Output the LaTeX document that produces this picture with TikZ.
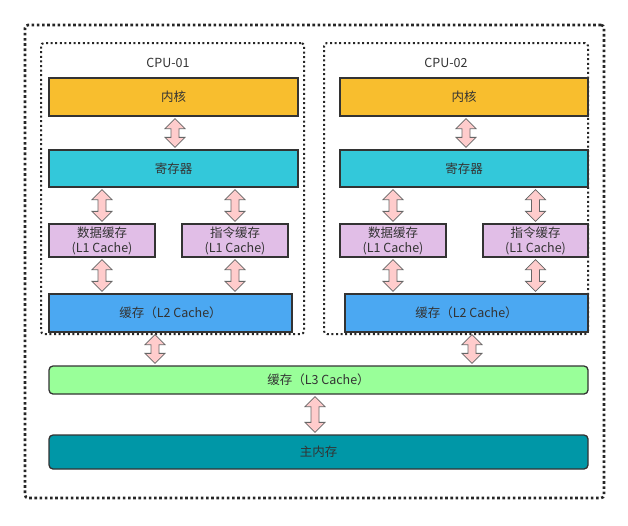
\documentclass[tikz,border=0pt]{standalone}
\usepackage{fontspec}
\setmainfont{Noto Sans CJK SC}
\usetikzlibrary{calc}
\definecolor{cCore}{HTML}{F8BE2E}
\definecolor{cReg}{HTML}{33C8DA}
\definecolor{cLone}{HTML}{E1BEE7}
\definecolor{cLtwo}{HTML}{4BA8F2}
\definecolor{cLthree}{HTML}{99FF99}
\definecolor{cMem}{HTML}{0097A7}
\definecolor{cArr}{HTML}{FFCCCC}
\definecolor{cTxt}{HTML}{333333}
\tikzset{
  box/.style={draw=cTxt, line width=1.3pt, inner sep=0pt, text=cTxt,
    font=\fontsize{12.5}{15}\selectfont, align=center},
  barr/.style={draw=black!60, fill=cArr, line width=0.8pt, line join=miter},
  outerbox/.style={draw=black!85, line width=2.6pt, dash pattern=on 2.6pt off 2.6pt, rounded corners=3pt},
  cpubox/.style={draw=black!85, line width=2pt, dash pattern=on 2pt off 2.6pt, rounded corners=3pt},
  lbl/.style={text=cTxt, font=\fontsize{12.5}{15}\selectfont}
}
\newcommand\boxnode[7]{\node[box,#6, minimum width={#4-#2}, minimum height={#5-#3}] (#1) at ({(#2+#4)/2},{(#3+#5)/2}) {#7};}
\newcommand\dbarr[3]{\path[barr] let \p1=(#2.south), \p2=(#3.north), \p3=(#1) in
  (\x3,\y1-2pt) -- (\x3-10pt,\y1-12pt) -- (\x3-4pt,\y1-12pt) -- (\x3-4pt,\y2+12pt) -- (\x3-10pt,\y2+12pt)
  -- (\x3,\y2+2pt) -- (\x3+10pt,\y2+12pt) -- (\x3+4pt,\y2+12pt) -- (\x3+4pt,\y1-12pt) -- (\x3+10pt,\y1-12pt) -- cycle;}
\begin{document}
\begin{tikzpicture}[x=1pt,y=-1pt]
\useasboundingbox (0,0) rectangle (628,525);
\fill[white] (0,0) rectangle (628,525);
\node[outerbox, minimum width=579, minimum height=473, inner sep=0pt] (outer) at (314.5,261.5) {};
\node[cpubox, minimum width=263, minimum height=291, inner sep=0pt] (cpuA) at (172.5,188.5) {};
\node[cpubox, minimum width=264, minimum height=291, inner sep=0pt] (cpuB) at (456,188.5) {};
\node[lbl] (labA) at (168,63) {CPU-01};
\node[lbl] (labB) at (446,63) {CPU-02};
% CPU-01
\boxnode{coreA}{49}{78}{298}{116}{fill=cCore}{内核}
\boxnode{regA}{49}{150}{298}{187}{fill=cReg}{寄存器}
\boxnode{dA}{49}{224}{155}{257}{fill=cLone}{数据缓存\\(L1 Cache)}
\boxnode{iA}{182}{224}{288}{257}{fill=cLone}{指令缓存\\(L1 Cache)}
\boxnode{ltA}{49}{294}{292}{332}{fill=cLtwo}{缓存（L2 Cache）}
% CPU-02
\boxnode{coreB}{340}{78}{588}{116}{fill=cCore}{内核}
\boxnode{regB}{340}{150}{588}{187}{fill=cReg}{寄存器}
\boxnode{dB}{340}{224}{446}{257}{fill=cLone}{数据缓存\\(L1 Cache)}
\boxnode{iB}{483}{224}{588}{257}{fill=cLone}{指令缓存\\(L1 Cache)}
\boxnode{ltB}{345}{294}{588}{332}{fill=cLtwo}{缓存（L2 Cache）}
% shared
\boxnode{lthree}{49}{366}{588}{394}{fill=cLthree, rounded corners=4pt}{缓存（L3 Cache）}
\boxnode{mem}{49}{435}{588}{469}{fill=cMem, rounded corners=4pt}{主内存}
% arrows
\dbarr{175,0}{coreA}{regA}
\dbarr{dA}{regA}{dA}
\dbarr{iA}{regA}{iA}
\dbarr{dA}{dA}{ltA}
\dbarr{iA}{iA}{ltA}
\dbarr{466,0}{coreB}{regB}
\dbarr{dB}{regB}{dB}
\dbarr{iB}{regB}{iB}
\dbarr{dB}{dB}{ltB}
\dbarr{iB}{iB}{ltB}
\dbarr{155,0}{ltA}{lthree}
\dbarr{472,0}{ltB}{lthree}
\dbarr{315,0}{lthree}{mem}
\end{tikzpicture}
\end{document}
